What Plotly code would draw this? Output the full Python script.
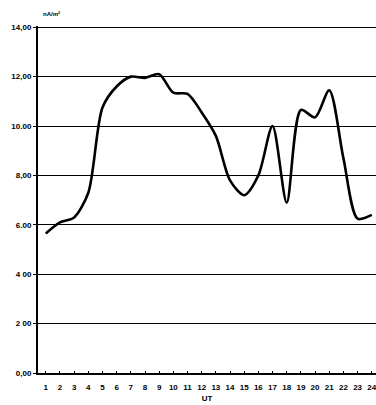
import plotly.graph_objects as go

# Hourly current density (UT hours 1-24)
hours = list(range(1, 25))
current = [5.65, 6.1, 6.3, 7.3, 10.75, 11.6, 12.0, 11.95, 12.1, 11.35, 11.3, 10.55,
           9.6, 7.8, 7.2, 8.0, 10.0, 6.9, 10.65, 10.35, 11.45, 8.7, 6.25, 6.4]

y_ticks = [0, 2, 4, 6, 8, 10, 12, 14]
y_tick_text = ["0,00", "2 00", "4 00", "6.00", "8,00", "10.00", "12,00", "14,00"]

fig = go.Figure()
fig.add_trace(go.Scatter(
    x=hours, y=current, mode="lines",
    line=dict(color="black", width=2.6, shape="spline", smoothing=0.8),
    hoverinfo="skip", showlegend=False,
))

font = dict(family="Liberation Sans, Arial, sans-serif", size=8, color="black")

fig.update_layout(
    width=376, height=405,
    margin=dict(l=38, r=0, t=26, b=32),
    paper_bgcolor="white", plot_bgcolor="white",
    font=font,
    xaxis=dict(
        range=[0.45, 24.3], tickmode="array", tickvals=hours,
        ticktext=[f"<b>{h}</b>" for h in hours],
        showgrid=False, zeroline=False,
        showline=True, linecolor="black", linewidth=1.5,
        ticks="inside", ticklen=2, tickcolor="black",
        ticklabeloverflow="allow", ticklabelstandoff=6, automargin=False,
        title=dict(text="<b>UT</b>", font=font, standoff=4),
    ),
    yaxis=dict(
        range=[0, 14.05], tickmode="array", tickvals=y_ticks,
        ticktext=[f"<b>{t}</b>" for t in y_tick_text],
        showgrid=True, gridcolor="black", gridwidth=1.2,
        zeroline=False,
        showline=True, linecolor="black", linewidth=2,
        ticks="outside", ticklen=3, tickcolor="black",
        automargin=False,
    ),
    annotations=[dict(
        text="<b>nA/m²</b>", xref="x domain", yref="paper", x=0.01, y=1.05,
        xanchor="left", showarrow=False,
        font=dict(family="Liberation Sans, Arial, sans-serif", size=6, color="black"),
    )],
)

fig.write_html("out.html")
